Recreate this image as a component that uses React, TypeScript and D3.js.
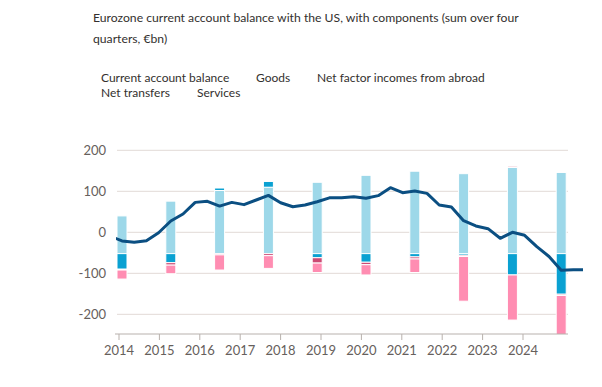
import React from 'react';
import * as d3 from 'd3';

// annual components (sum over four quarters, €bn), bars
const barYears = ['2015', '2016', '2017', '2018', '2019', '2020', '2021', '2022', '2023', '2024'];
const goods = [92, 128, 154, 162, 174, 191, 201, 195, 210, 198];
const services = [-38, -22, 6, 14, -10, -21, -8, -4, -52, -99];
const transfers = [-2, -6, -3, -5, -13, -6, -5, -3, 3, -3];
const factorIncomes = [-22, -21, -37, -31, -23, -25, -33, -109, -110, -110];
// bars in the original hang from this level instead of zero
const barBase = -52;

// quarterly current account balance
const balance = [-9, -21, -24.5, -20.5, -1, 27.5, 44.6, 73, 75.6, 64, 73, 67.5, 78.8, 90, 72, 62.4,
  66.5, 74.6, 84, 84.5, 86.9, 82.9, 89.4, 108.8, 96.7, 100.8, 95, 66.6, 61.7, 28.4, 15.4, 8.9,
  -14.6, 0, -7.3, -34.9, -59, -92.4, -91.5, -91];

const yearTicks = [2014, 2015, 2016, 2017, 2018, 2019, 2020, 2021, 2022, 2023, 2024];
const yTicks = [200, 100, 0, -100, -200];

const legendRows = [
  ['Current account balance', 'Goods', 'Net factor incomes from abroad'],
  ['Net transfers', 'Services'],
];

const colors: Record<string, string> = {
  goods: '#9dd8e9',
  services: '#0aa1d2',
  transfers: '#cc4a74',
  factor: '#ff8db2',
};

const font = 'Lato, "Open Sans", sans-serif';

export default function App() {
  const width = 602, height = 387;
  const plotLeft = 117, plotRight = 568, plotBottom = 334;

  const y = d3.scaleLinear().domain([-248, 200]).range([plotBottom, 150.3]);
  const xq = d3.scaleLinear().domain([0, 36]).range([122, 561.2]);
  const xYear = d3.scaleLinear().domain([2014, 2024]).range([119, 523]);

  const rows = barYears.map((yr, i) => ({
    year: yr, goods: goods[i], services: services[i], transfers: transfers[i], factor: factorIncomes[i],
  }));
  const stack = d3.stack<any>()
    .keys(['goods', 'services', 'transfers', 'factor'])
    .offset(d3.stackOffsetDiverging)(rows);

  const line = d3.line<number>()
    .x((_, i) => xq(i - 1))
    .y(d => y(d))
    .curve(d3.curveLinear);

  const barW = 10;

  return (
    <svg width={width} height={height} style={{ position: 'absolute', left: 0, top: 0, background: '#fff' }}>
      <defs>
        <clipPath id="plot">
          <rect x={plotLeft - 1} y={0} width={583 - plotLeft + 1} height={plotBottom} />
        </clipPath>
      </defs>
      <text x={93} y={22} fontFamily={font} fontSize={12.2} fill="#33302e">
        Eurozone current account balance with the US, with components (sum over four
      </text>
      <text x={93} y={43} fontFamily={font} fontSize={12.2} fill="#33302e">
        quarters, €bn)
      </text>

      {legendRows.map((row, r) => {
        const xs = r === 0 ? [101, 256, 317] : [101, 197];
        return row.map((t, i) => (
          <text key={t} x={xs[i]} y={82 + r * 15} fontFamily={font} fontSize={12} fill="#33302e">{t}</text>
        ));
      })}

      {yTicks.map(t => (
        <g key={t}>
          <line x1={plotLeft} x2={plotRight} y1={y(t)} y2={y(t)} stroke="#e2dad6" strokeWidth={1} />
          <text x={106} y={y(t)} dy="0.35em" textAnchor="end" fontFamily={font} fontSize={13} fill="#66605c">{t}</text>
        </g>
      ))}

      <g clipPath="url(#plot)">
        {stack.map(s => s.map((d, i) => {
          const y0 = y(barBase + d[0]);
          const y1 = y(barBase + d[1]);
          if (Math.abs(y0 - y1) < 0.01) return null;
          return (
            <rect key={s.key + i} x={xq(i * 4) - barW / 2} width={barW}
              y={Math.min(y0, y1)} height={Math.abs(y0 - y1)}
              fill={colors[s.key]} stroke="#fff" strokeWidth={1} />
          );
        }))}
        <path d={line(balance) || ''} fill="none" stroke="#0b4f82" strokeWidth={3} strokeLinejoin="round" />
      </g>

      <line x1={115} x2={plotRight} y1={plotBottom} y2={plotBottom} stroke="#b8b1ad" strokeWidth={1} />
      {yearTicks.map(t => (
        <g key={t}>
          <line x1={xYear(t)} x2={xYear(t)} y1={plotBottom} y2={plotBottom + 6} stroke="#b8b1ad" />
          <text x={xYear(t)} y={355} textAnchor="middle" fontFamily={font} fontSize={13} fill="#66605c">{t}</text>
        </g>
      ))}
    </svg>
  );
}
